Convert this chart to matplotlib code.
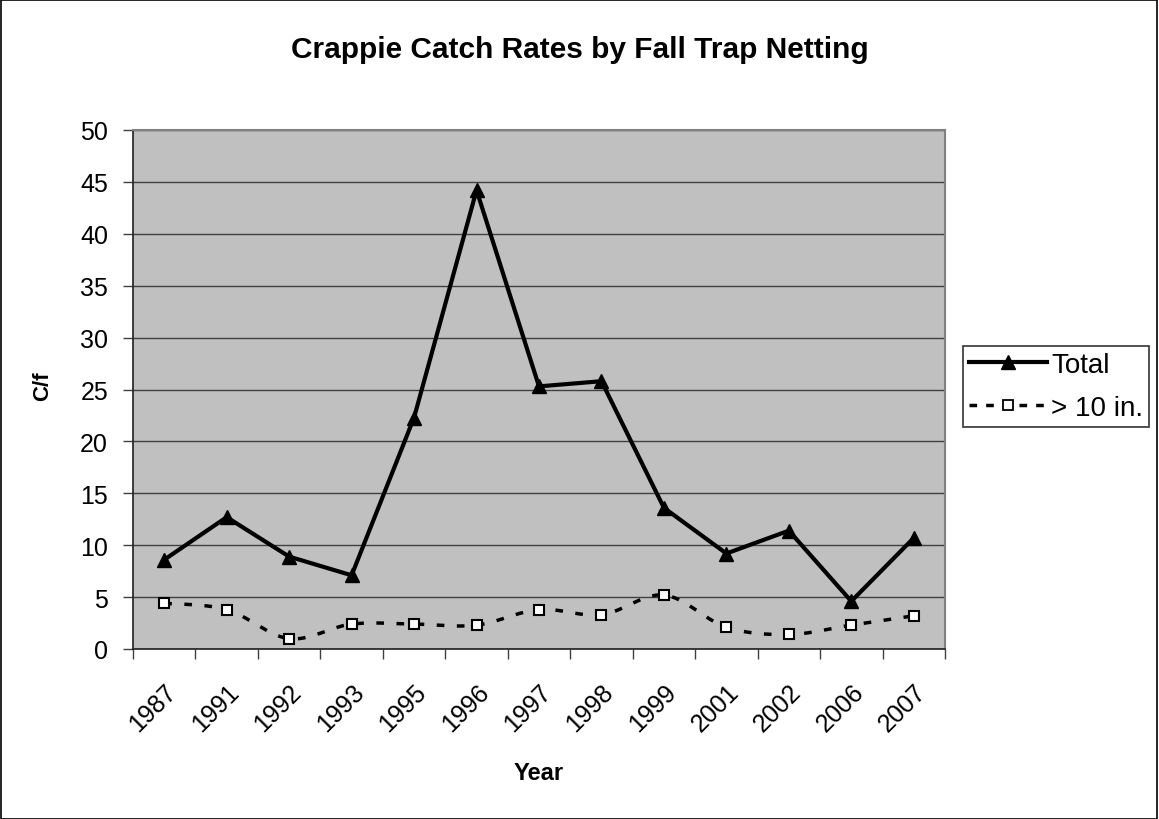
import numpy as np
import matplotlib.pyplot as plt
from matplotlib.patches import Rectangle
from matplotlib.transforms import ScaledTranslation

plt.rcParams['font.family'] = ['Liberation Sans', 'DejaVu Sans']

years = ['1987', '1991', '1992', '1993', '1995', '1996', '1997',
         '1998', '1999', '2001', '2002', '2006', '2007']
total = [8.6, 12.7, 8.9, 7.1, 22.3, 44.2, 25.3, 25.8, 13.6, 9.2, 11.4, 4.6, 10.7]
over_10in = [4.4, 3.8, 1.0, 2.4, 2.4, 2.3, 3.8, 3.3, 5.2, 2.1, 1.4, 2.3, 3.2]


def smooth(xs, ys, n=30):
    # bezier through the points, control points a la catmull-rom (tension 1/6)
    xs = np.asarray(xs, float)
    ys = np.asarray(ys, float)
    px = np.concatenate([[xs[0]], xs, [xs[-1]]])
    py = np.concatenate([[ys[0]], ys, [ys[-1]]])
    t = np.linspace(0, 1, n)
    ox, oy = [], []
    for i in range(1, len(px) - 2):
        p0 = np.array([px[i], py[i]])
        p3 = np.array([px[i + 1], py[i + 1]])
        c1 = p0 + (p3 - np.array([px[i - 1], py[i - 1]])) / 6
        c2 = p3 - (np.array([px[i + 2], py[i + 2]]) - p0) / 6
        b = ((1 - t) ** 3)[:, None] * p0 + (3 * (1 - t) ** 2 * t)[:, None] * c1 \
            + (3 * (1 - t) * t ** 2)[:, None] * c2 + (t ** 3)[:, None] * p3
        ox.extend(b[:, 0])
        oy.extend(b[:, 1])
    return np.array(ox), np.array(oy)


W, H = 1159, 820
fig = plt.figure(figsize=(W / 100, H / 100), dpi=100)
fig.patches.append(Rectangle((0.0005, 0.0005), 0.998, 0.998, transform=fig.transFigure,
                             fill=False, edgecolor='black', linewidth=1.2))

ax = fig.add_axes([133 / W, (H - 650) / H, 812 / W, 519 / H])
ax.set_facecolor('#c0c0c0')

x = np.arange(len(years))
ax.plot(x, total, color='black', linewidth=3, marker='^', markersize=10,
        markerfacecolor='black', markeredgecolor='black', label='Total', zorder=4)

sx, sy = smooth(x, over_10in)
ax.plot(sx, sy, color='black', linewidth=2.5, dashes=(2.2, 3.6), zorder=3)
ax.plot(x, over_10in, linestyle='none', marker='s', markersize=7,
        markerfacecolor='white', markeredgecolor='black', markeredgewidth=1.5, zorder=5)
# legend proxy for the dashed series
ax.plot([], [], color='black', linewidth=2.5, dashes=(2.2, 2.6), marker='s', markersize=7,
        markerfacecolor='white', markeredgecolor='black', markeredgewidth=1.3, label='> 10 in.')

ax.set_xlim(-0.5, len(years) - 0.5)
ax.set_ylim(0, 50)
ax.set_yticks(np.arange(0, 51, 5))
ax.yaxis.grid(True, color='#404040', linewidth=1)
ax.set_axisbelow(True)

ax.set_xticks(np.arange(-0.5, len(years), 1.0))
ax.set_xticklabels([])
ax.set_xticks(x, minor=True)
ax.set_xticklabels(years, minor=True, rotation=45, ha='right', va='top',
                   rotation_mode='anchor', fontsize=18)
shift = ScaledTranslation(-27 / 100, 0, fig.dpi_scale_trans)
for lbl in ax.get_xticklabels(minor=True):
    lbl.set_transform(lbl.get_transform() + shift)
ax.tick_params(axis='x', which='minor', length=0, pad=21.5)
ax.tick_params(axis='x', which='major', direction='out', length=7, width=1, color='#404040')
ax.tick_params(axis='y', direction='out', length=7, width=1, color='#404040',
               labelsize=18, pad=11)

for s in ['left', 'bottom']:
    ax.spines[s].set_color('#202020')
    ax.spines[s].set_linewidth(1.2)
for s in ['top', 'right']:
    ax.spines[s].set_color('#808080')
    ax.spines[s].set_linewidth(1.5)

fig.text(43 / W, 1 - 386 / H, 'C/f', rotation=90, ha='center', va='center',
         fontsize=16, fontweight='bold')
fig.text(539 / W, 1 - 774 / H, 'Year', ha='center', va='center',
         fontsize=17, fontweight='bold')
fig.text(0.5, 1 - 58 / H, 'Crappie Catch Rates by Fall Trap Netting',
         ha='center', va='baseline', fontsize=21.5, fontweight='bold')

leg = fig.legend(loc='upper left', bbox_to_anchor=(963 / W, 1 - 347 / H), fontsize=20,
                 frameon=True, fancybox=False, edgecolor='black', handlelength=2.8,
                 borderpad=0.22, labelspacing=0.6, handletextpad=0.15, borderaxespad=0)
leg.get_frame().set_linewidth(1.2)

fig.savefig('out.png', dpi=100)
